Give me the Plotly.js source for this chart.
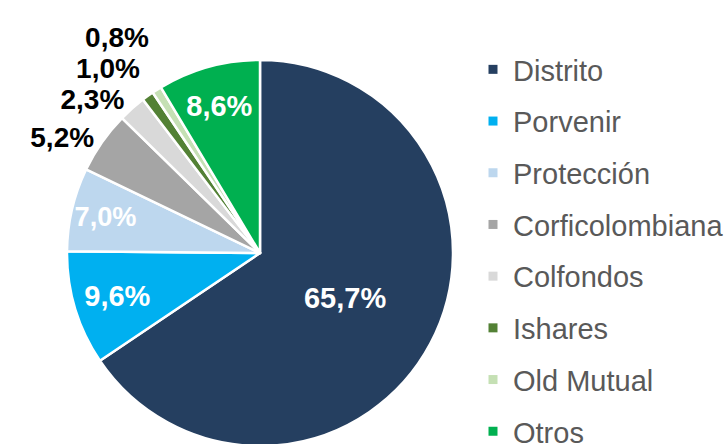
<!DOCTYPE html>
<html><head><meta charset="utf-8">
<script src="https://cdn.plot.ly/plotly-3.0.1.min.js"></script>
<style>html,body{margin:0;padding:0;overflow:hidden;background:#fff;width:727px;height:444px}#chart{width:745px;height:480px}</style>
</head><body><div id="chart"></div>
<script>
const categories = ['Distrito','Porvenir','Protección','Corficolombiana','Colfondos','Ishares','Old Mutual','Otros'];
const shares = [65.7, 9.6, 7.0, 5.2, 2.3, 1.0, 0.8, 8.6];
const colors = ['#253F60','#00B0F0','#BDD7EE','#A5A5A5','#D9D9D9','#538135','#C5E0B4','#00B050'];
const labelPlacement = ['inside','inside','inside','outside','outside','outside','outside','inside'];

const W = 745, H = 480;
const cx = 260, cy = 253, R = 193;
const FONT = 'Liberation Sans, Arial, sans-serif';

const traces = [{
  type: 'pie',
  labels: categories,
  values: shares,
  sort: false,
  direction: 'clockwise',
  rotation: 0,
  marker: {colors: colors, line: {color: '#FFFFFF', width: 2.5}},
  texttemplate: '%{value:.1f}%',
  textposition: labelPlacement,
  insidetextorientation: 'horizontal',
  insidetextfont: {family: FONT, size: 29, color: '#FFFFFF', weight: 'bold'},
  outsidetextfont: {family: FONT, size: 28, color: '#000000', weight: 'bold'},
  showlegend: false,
  hoverinfo: 'label+value',
  domain: {x: [(cx - R) / W, (cx + R) / W], y: [1 - (cy + R) / H, 1 - (cy - R) / H]}
}];
categories.forEach((c, i) => {
  traces.push({
    type: 'scatter', mode: 'markers', x: [null], y: [null],
    name: c, legendgroup: 'g' + i,
    marker: {symbol: 'square', size: 9, color: colors[i]},
    hoverinfo: 'skip'
  });
});

const layout = {
  width: W, height: H,
  margin: {l: 0, r: 0, t: 0, b: 0},
  paper_bgcolor: '#FFFFFF', plot_bgcolor: '#FFFFFF',
  separators: ',.',
  xaxis: {visible: false}, yaxis: {visible: false},
  showlegend: true,
  legend: {
    x: 473 / W, y: 1 - 44 / H, xanchor: 'left', yanchor: 'top',
    traceorder: 'grouped', tracegroupgap: 11,
    font: {family: FONT, size: 29, color: '#595959'},
    itemwidth: 30, bgcolor: 'rgba(0,0,0,0)'
  }
};
Plotly.newPlot('chart', traces, layout, {displayModeBar: false, staticPlot: true}).then(() => {
  document.querySelectorAll('#chart .textline').forEach(e => e.remove());
});
</script></body></html>
